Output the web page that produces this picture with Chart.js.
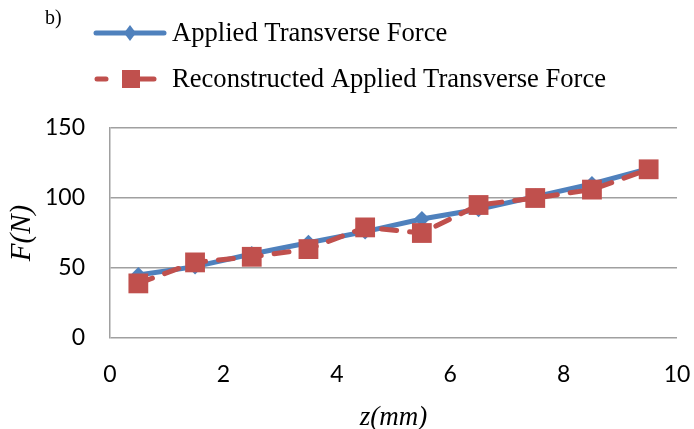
<!DOCTYPE html>
<html><head><meta charset="utf-8">
<script src="https://cdn.jsdelivr.net/npm/chart.js@4"></script>
<style>html,body{margin:0;padding:0;background:#fff}#wrap{width:694px;height:429px;position:relative}</style>
</head><body><div id="wrap"><canvas id="c" width="694" height="429"></canvas></div>
<script>
const positions = [0.5, 1.5, 2.5, 3.5, 4.5, 5.5, 6.5, 7.5, 8.5, 9.5];
const appliedForce = [45, 51, 60, 68, 76, 85, 92, 101, 110, 121];
const reconstructedForce = [39, 54, 58, 63.5, 79, 75, 95, 100, 106, 120.5];
const xTicks = [0, 2, 4, 6, 8, 10];
const yTicks = [0, 50, 100, 150];
const seriesNames = ['Applied Transverse Force', 'Reconstructed Applied Transverse Force'];
const panelLabel = 'b)';
const xTitle = 'z(mm)';
const yTitle = 'F(N)';

const BLUE = '#4F81BD', RED = '#C0504D', GRID = '#a0a0a0';
const toPts = (ys) => positions.map((x, i) => ({x: x, y: ys[i]}));

const legendPlugin = {
  id: 'customLegend',
  afterDraw(chart) {
    const ctx = chart.ctx;
    ctx.save();
    ctx.fillStyle = '#000';
    ctx.font = "20px 'Liberation Serif'";
    ctx.textBaseline = 'alphabetic';
    ctx.textAlign = 'left';
    ctx.fillText(panelLabel, 45, 24);
    let y = 33;
    ctx.strokeStyle = BLUE; ctx.lineWidth = 5; ctx.lineCap = 'round';
    ctx.beginPath(); ctx.moveTo(96, y); ctx.lineTo(164, y); ctx.stroke();
    ctx.fillStyle = BLUE;
    ctx.beginPath(); ctx.moveTo(130, y - 8); ctx.lineTo(136, y); ctx.lineTo(130, y + 8); ctx.lineTo(124, y); ctx.closePath(); ctx.fill();
    ctx.fillStyle = '#000';
    ctx.font = "26.6px 'Liberation Serif'";
    ctx.textBaseline = 'middle';
    ctx.fillText(seriesNames[0], 172, y + 1);
    y = 79;
    ctx.strokeStyle = RED; ctx.lineWidth = 5; ctx.lineCap = 'round';
    ctx.beginPath(); ctx.moveTo(97, y); ctx.lineTo(106, y); ctx.stroke();
    ctx.beginPath(); ctx.moveTo(140, y); ctx.lineTo(154, y); ctx.stroke();
    ctx.fillStyle = RED;
    ctx.fillRect(122, y - 9, 18, 18);
    ctx.fillStyle = '#000';
    ctx.fillText(seriesNames[1], 172, y + 1);
    ctx.restore();
  }
};

new Chart(document.getElementById('c'), {
  type: 'line',
  data: {
    datasets: [
      {
        label: seriesNames[0], data: toPts(appliedForce), order: 1,
        borderColor: BLUE, backgroundColor: BLUE, borderWidth: 5,
        pointStyle: 'rectRot', pointRadius: 8, pointBorderWidth: 0, pointHoverRadius: 8,
        tension: 0, fill: false
      },
      {
        label: seriesNames[1], data: toPts(reconstructedForce), order: 0,
        borderColor: RED, backgroundColor: RED, borderWidth: 5,
        borderDash: [15, 13], borderCapStyle: 'round',
        pointStyle: 'rect', pointRadius: 14, pointBorderWidth: 0, pointHoverRadius: 14,
        tension: 0, fill: false
      }
    ]
  },
  options: {
    responsive: false, animation: false, devicePixelRatio: 1,
    layout: { padding: { left: 0, right: 0, top: 128, bottom: 0 } },
    plugins: { legend: { display: false }, tooltip: { enabled: false } },
    scales: {
      x: {
        type: 'linear', min: 0, max: 10,
        afterFit(s) { s.height = 91; s.paddingRight = 17; },
        afterBuildTicks(s) { s.ticks = xTicks.map(v => ({value: v})); },
        grid: { display: false, drawTicks: false },
        border: { display: false },
        ticks: { color: '#000', font: { family: 'Lato', size: 23 }, padding: 23, maxRotation: 0 },
        title: { display: true, text: xTitle, color: '#000', font: { family: "'Liberation Serif'", size: 27, style: 'italic', lineHeight: 1 }, padding: { top: 0, bottom: -2 } }
      },
      y: {
        min: 0, max: 150,
        afterFit(s) { s.width = 110; },
        afterBuildTicks(s) { s.ticks = yTicks.map(v => ({value: v})); },
        grid: { color: GRID, lineWidth: 1.5, drawTicks: false },
        border: { display: true, color: GRID, width: 1.5 },
        ticks: { color: '#000', font: { family: 'Lato', size: 23 }, padding: 25 },
        title: { display: true, text: yTitle, color: '#000', font: { family: "'Liberation Serif'", size: 29, style: 'italic', lineHeight: 1 }, padding: { top: 8, bottom: 0 } }
      }
    }
  },
  plugins: [legendPlugin]
});
</script></body></html>
